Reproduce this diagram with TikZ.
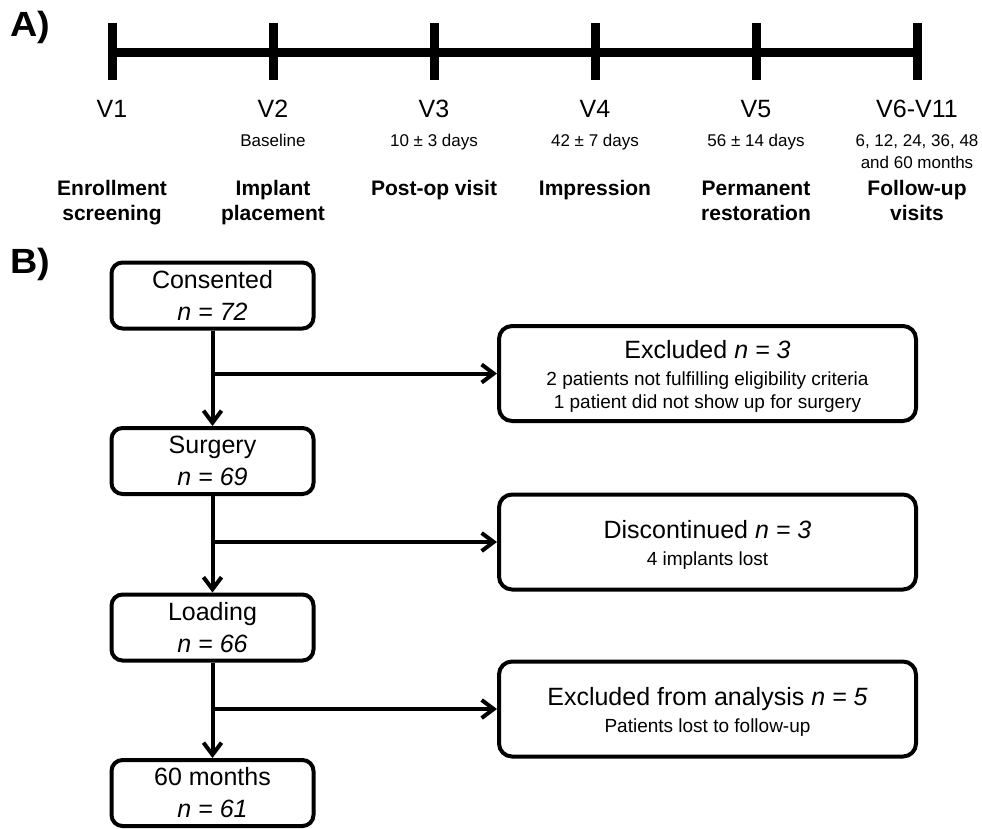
\documentclass[tikz,border=0pt]{standalone}
\usepackage{fontspec}
\setmainfont{Liberation Sans}
\usetikzlibrary{arrows.meta}
\begin{document}
\begin{tikzpicture}[x=1pt,y=1pt,
  tl/.style={line width=9pt},
  vlab/.style={anchor=base,font=\fontsize{25}{30}\selectfont,inner sep=0pt},
  slab/.style={anchor=base,font=\fontsize{17}{20}\selectfont,inner sep=0pt},
  blab/.style={anchor=base,font=\bfseries\fontsize{21}{25}\selectfont,inner sep=0pt},
  panel/.style={anchor=center,font=\bfseries\fontsize{35}{40}\selectfont,inner sep=0pt},
  lbox/.style={draw,line width=4pt,rounded corners=11pt,minimum width=202pt,minimum height=66pt,align=center,inner sep=0pt,font=\fontsize{25}{32}\selectfont},
  rbox/.style={draw,line width=4pt,rounded corners=13pt,minimum width=417pt,minimum height=95pt,align=center,inner sep=0pt,font=\fontsize{25}{27}\selectfont},
  arr/.style={line width=4pt,-{Straight Barb[length=12pt,width=18pt]}},
]
\useasboundingbox (0,0) rectangle (982,-828);

% Panel labels
\node[panel] (pA) at (30,-27) {\scalebox{1.08}[1]{A)}};
\node[panel] (pB) at (30,-264) {\scalebox{1.08}[1]{B)}};

% Timeline
\coordinate (t1) at (112,-52);
\coordinate (t2) at (273,-52);
\coordinate (t3) at (434,-52);
\coordinate (t4) at (595,-52);
\coordinate (t5) at (756,-52);
\coordinate (t6) at (917,-52);
\draw[tl] (t1) -- (t6);
\foreach \t in {t1,t2,t3,t4,t5,t6}{
  \draw[tl] ([yshift=29pt]\t) -- ([yshift=-28pt]\t);
}

% Visit labels
\node[vlab] (v1) at (112,-117) {V1};
\node[vlab] (v2) at (273,-117) {V2};
\node[vlab] (v3) at (434,-117) {V3};
\node[vlab] (v4) at (595,-117) {V4};
\node[vlab] (v5) at (756,-117) {V5};
\node[vlab] (v6) at (917,-117) {V6-V11};

\node[slab] (s2) at (273,-146) {Baseline};
\node[slab] (s3) at (434,-146) {10 ± 3 days};
\node[slab] (s4) at (595,-146) {42 ± 7 days};
\node[slab] (s5) at (756,-146) {56 ± 14 days};
\node[slab] (s6a) at (917,-146) {6, 12, 24, 36, 48};
\node[slab] (s6b) at (917,-168) {and 60 months};

\node[blab] (b1a) at (112,-195.5) {Enrollment};
\node[blab] (b1b) at (112,-220.5) {screening};
\node[blab] (b2a) at (273,-195.5) {Implant};
\node[blab] (b2b) at (273,-220.5) {placement};
\node[blab] (b3a) at (434,-195.5) {Post-op visit};
\node[blab] (b4a) at (595,-195.5) {Impression};
\node[blab] (b5a) at (756,-195.5) {Permanent};
\node[blab] (b5b) at (756,-220.5) {restoration};
\node[blab] (b6a) at (917,-195.5) {Follow-up};
\node[blab] (b6b) at (917,-220.5) {visits};

% Flow chart
\node[lbox] (cons) at (212.5,-295.5) {Consented\\\textit{n = 72}};
\node[lbox] (surg) at (212.5,-461) {Surgery\\\textit{n = 69}};
\node[lbox] (load) at (212.5,-627.5) {Loading\\\textit{n = 66}};
\node[lbox] (mon) at (212.5,-793) {60 months\\\textit{n = 61}};

\node[rbox] (exc1) at (707.5,-373.5) {\rule{0pt}{24pt}Excluded \textit{n = 3}\\{\fontsize{19}{23}\selectfont 2 patients not fulfilling eligibility criteria}\\[-4pt]{\fontsize{19}{23}\selectfont 1 patient did not show up for surgery}};
\node[rbox] (disc) at (707.5,-542) {\rule{0pt}{24pt}Discontinued \textit{n = 3}\\{\fontsize{19}{23}\selectfont 4 implants lost}};
\node[rbox] (exc2) at (707.5,-709) {\rule{0pt}{24pt}Excluded from analysis \textit{n = 5}\\{\fontsize{19}{23}\selectfont Patients lost to follow-up}};

\draw[arr] (cons) -- (surg);
\draw[arr] (surg) -- (load);
\draw[arr] (load) -- (mon);
\draw[arr] (cons.south |- exc1.west) -- (exc1.west);
\draw[arr] (surg.south |- disc.west) -- (disc.west);
\draw[arr] (load.south |- exc2.west) -- (exc2.west);
\end{tikzpicture}
\end{document}
